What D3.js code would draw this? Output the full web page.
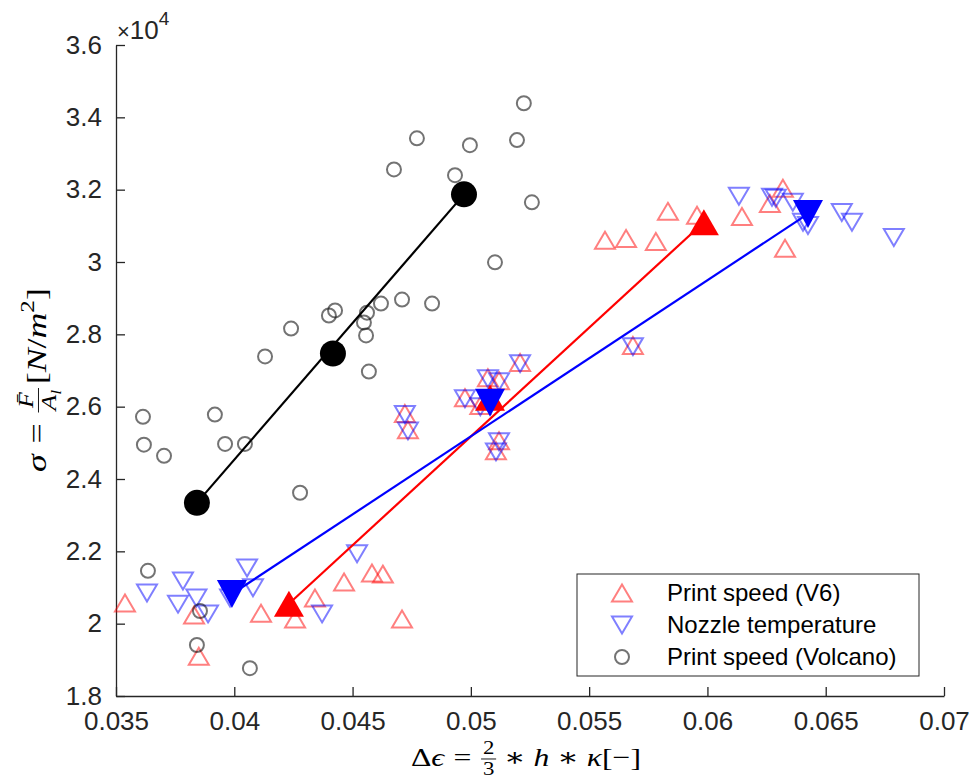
<!DOCTYPE html>
<html>
<head>
<meta charset="utf-8">
<script src="https://cdn.jsdelivr.net/npm/d3@7"></script>
<style>
  html, body { margin: 0; padding: 0; background: #fff; }
  svg { display: block; }
  .tick text { font-family: "Liberation Sans", Arial, sans-serif; font-size: 26px; fill: #262626; }
  .tick line, .domain { stroke: #262626; stroke-width: 1.3px; }
</style>
</head>
<body>
<svg id="chart" width="979" height="779"></svg>
<script>
// strain, stress [N/m^2]
var v6Points = [
  [0.03538, 20570], [0.03830, 20240], [0.03850, 19100], [0.04113, 20290], [0.04257, 20130],
  [0.04341, 20710], [0.04464, 21150], [0.04582, 21400], [0.04628, 21370], [0.04709, 20130],
  [0.04721, 25810], [0.04734, 25360], [0.04975, 26250], [0.05072, 26800], [0.05119, 26720],
  [0.05040, 26030], [0.05208, 27220], [0.05119, 25060], [0.05106, 24780], [0.05685, 27690],
  [0.05567, 30600], [0.05656, 30650], [0.05782, 30570], [0.05833, 31400], [0.05956, 31290],
  [0.06146, 31260], [0.06264, 31620], [0.06319, 32040], [0.06328, 30380]
];
var nozzlePoints = [
  [0.03631, 20850], [0.03783, 21180], [0.03762, 20540], [0.03840, 20710], [0.03889, 20270],
  [0.04054, 21540], [0.04079, 20990], [0.03982, 20710], [0.04371, 20270], [0.04519, 21930],
  [0.04721, 25780], [0.04734, 25330], [0.04975, 26220], [0.05072, 26770], [0.05119, 26690],
  [0.05040, 26000], [0.05208, 27190], [0.05119, 25030], [0.05106, 24750], [0.05685, 27660],
  [0.06133, 31820], [0.06273, 31790], [0.06289, 31760], [0.06361, 31650], [0.06404, 31100],
  [0.06425, 31010], [0.06568, 31370], [0.06611, 31100], [0.06788, 30680]
];
var volcanoPoints = [
  [0.05224, 34390], [0.04772, 33420], [0.04996, 33230], [0.05195, 33370], [0.04675, 32560],
  [0.04933, 32400], [0.05258, 31650], [0.05102, 29990], [0.04709, 28960], [0.04836, 28850],
  [0.04620, 28850], [0.04426, 28660], [0.04400, 28520], [0.04561, 28600], [0.04548, 28330],
  [0.04557, 27970], [0.04240, 28160], [0.04130, 27390], [0.04569, 26970], [0.03614, 25720],
  [0.03918, 25780], [0.03618, 24950], [0.03703, 24640], [0.03961, 24970], [0.04045, 24970],
  [0.04278, 23620], [0.03635, 21460], [0.03855, 20350], [0.03842, 19410], [0.04066, 18770]
];
// mean values per group (low, mid, high)
var v6Means = [[0.04231, 20550], [0.05081, 26250], [0.05985, 31100]];
var nozzleMeans = [[0.03990, 20820], [0.05081, 26110], [0.06425, 31330]];
var volcanoMeans = [[0.03842, 23340], [0.04417, 27470], [0.04971, 31870]];

var xTicks = [0.035, 0.04, 0.045, 0.05, 0.055, 0.06, 0.065, 0.07];
var yTicks = [18000, 20000, 22000, 24000, 26000, 28000, 30000, 32000, 34000, 36000];
var legendLabels = ["Print speed (V6)", "Nozzle temperature", "Print speed (Volcano)"];

var svg = d3.select("#chart");
var x = d3.scaleLinear().domain([0.035, 0.07]).range([116, 944]);
var y = d3.scaleLinear().domain([18000, 36000]).range([696, 45]);

function triUp(w, h) { return "M0," + (-h / 2) + "L" + (w / 2) + "," + (h / 2) + "L" + (-w / 2) + "," + (h / 2) + "Z"; }
function triDown(w, h) { return "M0," + (h / 2) + "L" + (w / 2) + "," + (-h / 2) + "L" + (-w / 2) + "," + (-h / 2) + "Z"; }

// axes
svg.append("g")
  .attr("transform", "translate(0," + y.range()[0] + ")")
  .call(d3.axisBottom(x).tickValues(xTicks).tickSize(-9).tickSizeOuter(0).tickPadding(16)
    .tickFormat(function(d) { return String(+d.toFixed(3)); }));
svg.append("g")
  .attr("transform", "translate(" + x.range()[0] + ",0)")
  .call(d3.axisLeft(y).tickValues(yTicks).tickSize(-9).tickSizeOuter(0).tickPadding(14)
    .tickFormat(function(d) { return String(+(d / 1e4).toFixed(1)); }));
svg.selectAll(".tick text").attr("fill", "#262626");

// exponent
svg.append("text")
  .attr("x", 117).attr("y", 39)
  .style("font-family", "Liberation Sans, Arial, sans-serif")
  .style("font-size", "26px").style("fill", "#262626")
  .call(function(t) {
    t.append("tspan").style("font-size", "22px").text("\u00d7");
    t.append("tspan").text("10");
    t.append("tspan").attr("dy", -14).style("font-size", "19px").text("4");
  });

// scatter
svg.append("g").selectAll("path")
  .data(v6Points).enter().append("path")
  .attr("d", triUp(20, 17))
  .attr("transform", function(d) { return "translate(" + x(d[0]) + "," + y(d[1]) + ")"; })
  .style("fill", "none").style("stroke", "rgba(255,0,0,0.5)").style("stroke-width", 2);
svg.append("g").selectAll("path")
  .data(nozzlePoints).enter().append("path")
  .attr("d", triDown(20, 17))
  .attr("transform", function(d) { return "translate(" + x(d[0]) + "," + y(d[1]) + ")"; })
  .style("fill", "none").style("stroke", "rgba(0,0,255,0.5)").style("stroke-width", 2);
svg.append("g").selectAll("circle")
  .data(volcanoPoints).enter().append("circle")
  .attr("cx", function(d) { return x(d[0]); })
  .attr("cy", function(d) { return y(d[1]); })
  .attr("r", 7)
  .style("fill", "none").style("stroke", "rgba(0,0,0,0.55)").style("stroke-width", 2);

// trend lines between the outer means
var groups = [
  { means: v6Means, color: "#ff0000", shape: "up" },
  { means: nozzleMeans, color: "#0000ff", shape: "down" },
  { means: volcanoMeans, color: "#000000", shape: "circle" }
];
var line = d3.line().x(function(d) { return x(d[0]); }).y(function(d) { return y(d[1]); });
groups.forEach(function(gr) {
  svg.append("path")
    .attr("d", line([gr.means[0], gr.means[gr.means.length - 1]]))
    .style("fill", "none").style("stroke", gr.color).style("stroke-width", 2.2);
});
groups.forEach(function(gr) {
  var sel = svg.append("g").selectAll(".m").data(gr.means).enter();
  if (gr.shape === "circle") {
    sel.append("circle")
      .attr("cx", function(d) { return x(d[0]); })
      .attr("cy", function(d) { return y(d[1]); })
      .attr("r", 13).style("fill", gr.color);
  } else {
    sel.append("path")
      .attr("d", gr.shape === "up" ? triUp(30, 26) : triDown(30, 28))
      .attr("transform", function(d) { return "translate(" + x(d[0]) + "," + y(d[1]) + ")"; })
      .style("fill", gr.color);
  }
});

// legend
var lg = svg.append("g");
lg.append("rect").attr("x", 577).attr("y", 574).attr("width", 342).attr("height", 102)
  .style("fill", "#fff").style("stroke", "#262626").style("stroke-width", 1);
legendLabels.forEach(function(lbl, i) {
  var cy = 593 + i * 32;
  if (i === 2) {
    lg.append("circle").attr("cx", 622).attr("cy", cy).attr("r", 7)
      .style("fill", "none").style("stroke", "rgba(0,0,0,0.55)").style("stroke-width", 2);
  } else {
    lg.append("path").attr("d", i === 0 ? triUp(20, 17) : triDown(20, 17))
      .attr("transform", "translate(622," + cy + ")")
      .style("fill", "none").style("stroke", i === 0 ? "rgba(255,0,0,0.5)" : "rgba(0,0,255,0.5)")
      .style("stroke-width", 2);
  }
  lg.append("text").attr("x", 667).attr("y", cy).attr("dy", "0.35em")
    .style("font-family", "Liberation Sans, Arial, sans-serif").style("font-size", "24px")
    .style("fill", "#000").text(lbl);
});

// math-style axis titles
function runText(g, spans, fs) {
  var t = g.append("text").style("font-family", "Liberation Serif, 'DejaVu Serif', serif")
    .style("font-size", fs + "px").style("fill", "#000");
  var shift = 0;
  spans.forEach(function(s) {
    var sz = fs * (s.scale || 1), sh = (s.shift || 0) * fs;
    t.append("tspan").attr("dy", sh - shift)
      .style("font-style", s.it ? "italic" : "normal")
      .style("font-size", sz + "px").text(s.s);
    shift = sh;
  });
  return t;
}
function mathLabel(g, items, fs, stretch) {
  var grp = g.append("g"), cx = 0;
  items.forEach(function(it) {
    if (it.sp) { cx += it.sp * fs; return; }
    if (it.frac) {
      var sf = fs * 0.72;
      var num = runText(grp, it.frac[0], sf).attr("y", -fs * 0.45).attr("text-anchor", "middle");
      var den = runText(grp, it.frac[1], sf).attr("y", fs * 0.36).attr("text-anchor", "middle");
      var w = Math.max(num.node().getComputedTextLength(), den.node().getComputedTextLength()) + 3;
      num.attr("x", cx + w / 2);
      den.attr("x", cx + w / 2);
      grp.append("line").attr("x1", cx).attr("x2", cx + w)
        .attr("y1", -fs * 0.27).attr("y2", -fs * 0.27)
        .style("stroke", "#000").style("stroke-width", 0.9);
      cx += w;
      return;
    }
    var t = runText(grp, it.run, fs).attr("x", cx);
    cx += t.node().getComputedTextLength();
  });
  grp.attr("transform", "scale(" + stretch + ",1) translate(" + (-cx / 2) + ",0)");
  return grp;
}

var xl = svg.append("g").attr("transform", "translate(526,766)");
mathLabel(xl, [
  { run: [{ s: "\u0394" }, { s: "\u03f5", it: true }] },
  { sp: 0.3 }, { run: [{ s: "=" }] }, { sp: 0.3 },
  { frac: [[{ s: "2" }], [{ s: "3" }]] },
  { sp: 0.25 }, { run: [{ s: "\u2217" }] }, { sp: 0.25 },
  { run: [{ s: "h", it: true }] },
  { sp: 0.25 }, { run: [{ s: "\u2217" }] }, { sp: 0.25 },
  { run: [{ s: "\u03ba", it: true }, { s: "[\u2212]" }] }
], 26, 1.22);

var yl = svg.append("g").attr("transform", "translate(46,380) rotate(-90)");
mathLabel(yl, [
  { run: [{ s: "\u03c3", it: true }] },
  { sp: 0.3 }, { run: [{ s: "=" }] }, { sp: 0.3 },
  { frac: [[{ s: "F\u0304", it: true }], [{ s: "A", it: true }, { s: "l", it: true, scale: 0.7, shift: 0.25 }]] },
  { sp: 0.1 },
  { run: [{ s: "[" }, { s: "N", it: true }, { s: "/" }, { s: "m", it: true },
          { s: "2", scale: 0.7, shift: -0.42 }, { s: "]", shift: 0 }] }
], 28, 1.28);
</script>
</body>
</html>
